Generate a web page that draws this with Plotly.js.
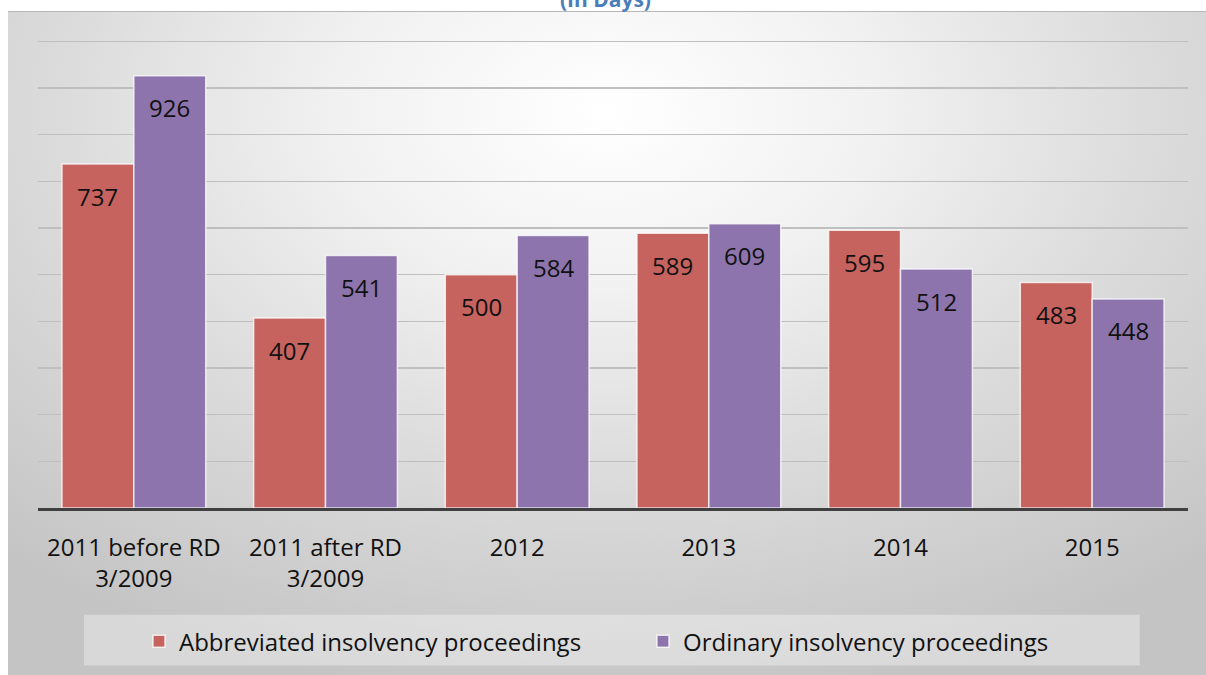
<!DOCTYPE html>
<html>
<head>
<meta charset="utf-8">
<script src="https://cdn.plot.ly/plotly-3.0.1.min.js"></script>
<style>
  html, body { margin: 0; padding: 0; background: #ffffff; }
  #wrap { position: relative; width: 1206px; height: 675px; overflow: hidden; }
  #bg { position: absolute; left: 8px; top: 11px; width: 1198px; height: 664px;
        background: radial-gradient(ellipse 75% 90% at 50% 15%, #ffffff 0%, #f1f1f1 30%, #dcdcdc 60%, #c4c4c4 100%);
        border-top: 1px solid #b8b8b8; }
  #chart { position: absolute; left: 0; top: 0; width: 1206px; height: 675px; }
</style>
</head>
<body>
<div id="wrap">
  <div id="bg"></div>
  <div id="chart"></div>
</div>
<script>
const categories = ["2011 before RD<br>3/2009", "2011 after RD<br>3/2009", "2012", "2013", "2014", "2015"];
const abbreviated = [737, 407, 500, 589, 595, 483];
const ordinary = [926, 541, 584, 609, 512, 448];
const seriesNames = ["Abbreviated insolvency proceedings", "Ordinary insolvency proceedings"];
const seriesColors = ["#c7635f", "#8d74ad"];

const FONT = "'Open Sans', 'Noto Sans', sans-serif";
const bargap = 0.25;
const barHalf = (1 - bargap) / 4;

const traces = [abbreviated, ordinary].map((vals, k) => ({
  type: "bar",
  name: seriesNames[k],
  x: categories,
  y: vals,
  marker: { color: seriesColors[k], line: { color: "rgba(255,255,255,0.75)", width: 1.5 } },
  hoverinfo: "x+y+name"
}));

const annotations = [];
[abbreviated, ordinary].forEach((vals, k) => {
  vals.forEach((v, i) => {
    annotations.push({
      xref: "x", yref: "y",
      x: i + (k === 0 ? -barHalf : barHalf),
      y: v,
      yshift: -32,
      yanchor: "middle",
      xanchor: "center",
      text: String(v),
      showarrow: false,
      font: { family: FONT, size: 24, color: "#111111" }
    });
  });
});

const layout = {
  width: 1206,
  height: 675,
  paper_bgcolor: "rgba(0,0,0,0)",
  plot_bgcolor: "rgba(0,0,0,0)",
  margin: { l: 38, r: 18, t: 39, b: 166 },
  barmode: "group",
  bargap: bargap,
  bargroupgap: 0,
  title: {
    text: "<b>(In Days)</b>",
    font: { family: FONT, size: 21, color: "#4a7ebb" },
    x: 0.502, xanchor: "center",
    y: 1, yanchor: "middle", yref: "container"
  },
  xaxis: {
    type: "category",
    showline: true, linecolor: "#404040", linewidth: 3,
    showgrid: false, zeroline: false,
    ticks: "",
    ticklabelstandoff: 16,
    tickfont: { family: FONT, size: 24, color: "#111111" }
  },
  yaxis: {
    range: [0, 1005],
    tick0: 0,
    dtick: 100,
    showticklabels: false,
    showgrid: true, gridcolor: "#bfbfbf", gridwidth: 1.5,
    zeroline: false, showline: false, ticks: ""
  },
  shapes: [{
    type: "rect", layer: "below",
    xref: "paper", yref: "paper",
    x0: 0.04, x1: 0.958, y0: -0.336, y1: -0.2277,
    fillcolor: "rgba(255,255,255,0.35)",
    line: { width: 0 }
  }],
  showlegend: true,
  legend: {
    orientation: "h",
    x: 0.0878, xanchor: "left",
    y: -0.282, yanchor: "middle",
    bgcolor: "rgba(0,0,0,0)",
    font: { family: FONT, size: 24, color: "#111111" },
    itemwidth: 30,
    entrywidth: 459,
    traceorder: "normal"
  },
  annotations: annotations
};

Plotly.newPlot("chart", traces, layout, { displayModeBar: false, staticPlot: true });
</script>
</body>
</html>
